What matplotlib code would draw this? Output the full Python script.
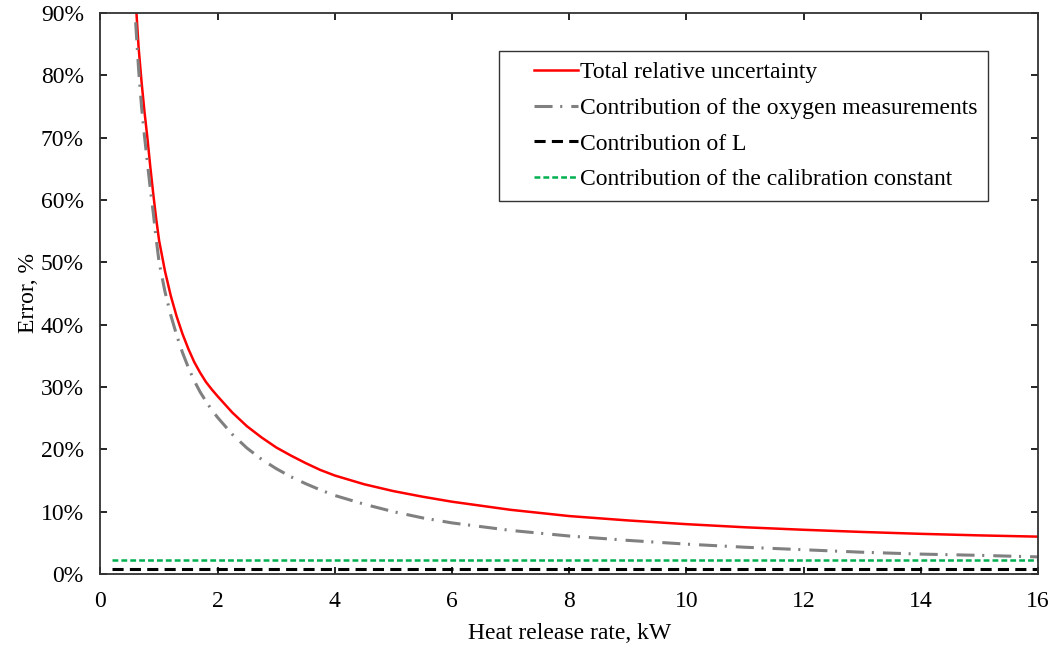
import matplotlib
matplotlib.use("Agg")
import matplotlib.pyplot as plt
import numpy as np
from matplotlib.legend_handler import HandlerLine2D

plt.rcParams["font.family"] = ["Liberation Serif", "DejaVu Serif"]
plt.rcParams["lines.scale_dashes"] = False

# heat release rate [kW] and error contributions [%]
hrr = [0.6, 0.65, 0.7, 0.75, 0.8, 0.85, 0.9, 0.95, 1.0, 1.1, 1.2, 1.3, 1.4, 1.5, 1.6,
       1.7, 1.8, 1.9, 2.0, 2.25, 2.5, 2.75, 3.0, 3.25, 3.5, 3.75, 4.0, 4.5, 5.0, 5.5,
       6.0, 7.0, 8.0, 9.0, 10.0, 11.0, 12.0, 13.0, 14.0, 15.0, 16.0]
total = [92.0, 84.5, 79.0, 74.2, 70.0, 65.3, 61.0, 57.0, 53.5, 48.6, 44.6, 41.3, 38.5,
         36.1, 34.0, 32.3, 30.8, 29.6, 28.5, 25.9, 23.7, 21.9, 20.3, 19.0, 17.8, 16.7,
         15.8, 14.4, 13.3, 12.4, 11.6, 10.3, 9.3, 8.6, 8.0, 7.5, 7.1, 6.75, 6.45, 6.2, 6.0]
oxygen = [88.5, 81.0, 75.0, 70.3, 66.0, 61.8, 58.0, 53.8, 50.0, 45.3, 41.5, 38.3, 35.5,
          33.1, 31.0, 29.2, 27.7, 26.3, 25.1, 22.4, 20.2, 18.4, 16.9, 15.6, 14.5, 13.5,
          12.6, 11.2, 10.0, 9.0, 8.2, 7.0, 6.1, 5.4, 4.8, 4.3, 3.9, 3.5, 3.2, 3.0, 2.75]
hrr_const = [0.2, 16.0]
contrib_l = [0.8, 0.8]
contrib_cal = [2.25, 2.25]

xticks = [0, 2, 4, 6, 8, 10, 12, 14, 16]
yticks = [0, 10, 20, 30, 40, 50, 60, 70, 80, 90]


class RightHandle(HandlerLine2D):
    """Legend line drawn only over the right part of the handle box."""

    def get_xdata(self, legend, xdescent, ydescent, width, height, fontsize):
        x = np.array([-xdescent + 0.36 * width, -xdescent + width])
        return x, x


fig = plt.figure(figsize=(10.59, 6.45), dpi=100)
ax = fig.add_axes([0.0949, 0.110, 0.8853, 0.870])

ax.plot(hrr, total, color="#FF0000", lw=1.8, label="Total relative uncertainty")
ax.plot(hrr, oxygen, color="#808080", lw=2.2, linestyle=(0, (13, 5.5, 1.5, 6.5)),
        label="Contribution of the oxygen measurements")
ax.plot(hrr_const, contrib_l, color="black", lw=2.2, linestyle=(0, (8, 4.5)),
        label="Contribution of L")
ax.plot(hrr_const, contrib_cal, color="#00B050", lw=1.8, linestyle=(0, (4.2, 2.2)),
        label="Contribution of the calibration constant")

ax.set_xlim(0, 16)
ax.set_ylim(0, 90)
ax.set_xticks(xticks)
ax.set_xticklabels([str(v) for v in xticks])
ax.set_yticks(yticks)
ax.set_yticklabels([f"{v}%" for v in yticks])
ax.tick_params(direction="in", length=5, width=1.2, labelsize=17, colors="black",
               top=True, right=True)
ax.tick_params(axis="y", pad=12)
ax.tick_params(axis="x", pad=12)
for sp in ax.spines.values():
    sp.set_linewidth(1.3)
    sp.set_color("#333333")

ax.set_xlabel("Heat release rate, kW", fontsize=17, labelpad=8)
ax.set_ylabel("Error, %", fontsize=17, labelpad=1)

leg = ax.legend(loc="upper right", bbox_to_anchor=(0.947, 0.932), fontsize=17,
                frameon=True, fancybox=False, handlelength=2.9, handletextpad=0.1,
                borderpad=0.45, labelspacing=0.6, borderaxespad=0,
                handler_map={plt.Line2D: RightHandle()})
leg.get_frame().set_edgecolor("black")
leg.get_frame().set_linewidth(1.0)

fig.savefig("out.png", dpi=100)
